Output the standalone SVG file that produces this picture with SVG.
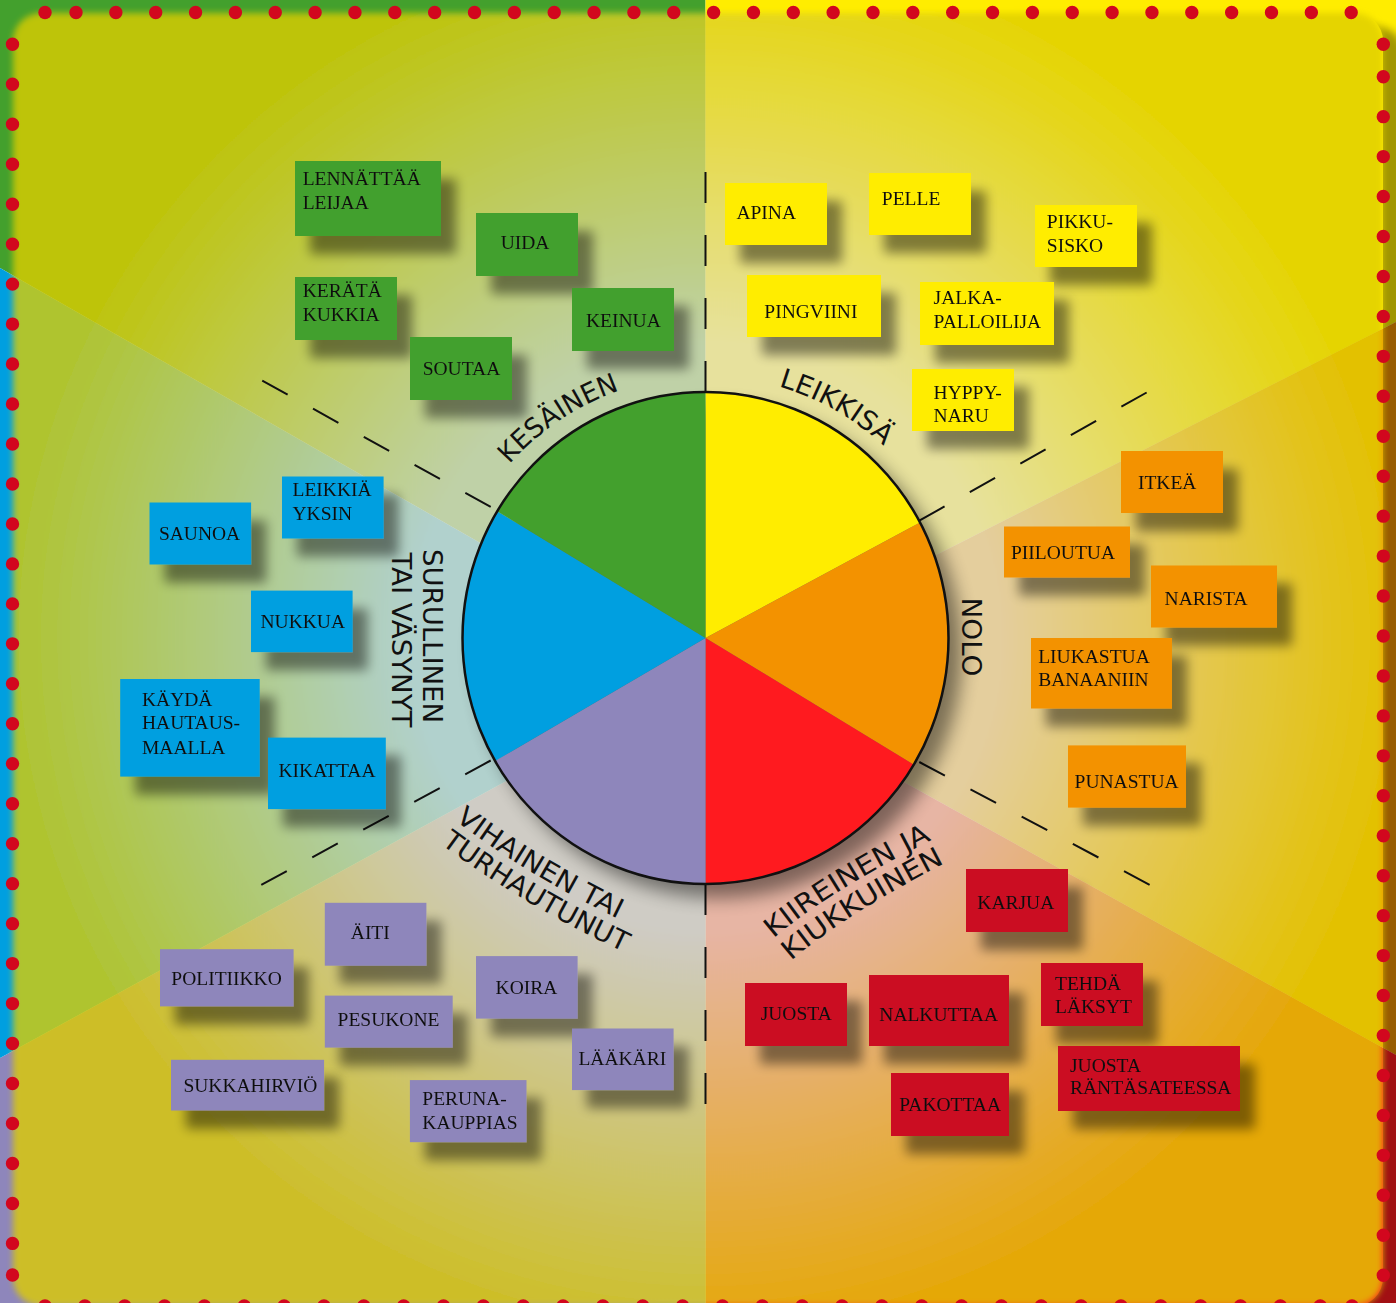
<svg xmlns="http://www.w3.org/2000/svg" width="1396" height="1303" viewBox="0 0 1396 1303">
<defs>
<style>
.bt { font-family: "Liberation Serif", "Times New Roman", serif; font-size: 19.5px; fill: #111; }
.lbl { font-family: "DejaVu Sans Condensed", "DejaVu Sans", sans-serif; font-size: 27px; fill: #111; }
.dash { stroke: #111; stroke-width: 2; fill: none; }
.dd { stroke-dasharray: 29 29; }
.dv { stroke-dasharray: 31 32; }
.dots { stroke: #D2071E; stroke-width: 13.4; stroke-linecap: round; fill: none; }
.dot { fill: #D2071E; }
.g { fill: #43A02D; } .y { fill: #FFED00; } .o { fill: #F39200; } .r { fill: #CB0A20; } .p { fill: #8E86BB; } .b { fill: #009FE0; }
</style>
<filter id="sh" x="-20%" y="-20%" width="160%" height="180%">
<feGaussianBlur in="SourceAlpha" stdDeviation="6"/>
<feOffset dx="15" dy="18"/>
<feComponentTransfer><feFuncA type="linear" slope="0.45"/></feComponentTransfer>
<feMerge><feMergeNode/><feMergeNode in="SourceGraphic"/></feMerge>
</filter>
<filter id="blur9" x="-20%" y="-20%" width="140%" height="140%"><feGaussianBlur stdDeviation="9"/></filter>
<filter id="blur4" x="-5%" y="-5%" width="110%" height="110%"><feGaussianBlur stdDeviation="4"/></filter>
<filter id="blur3" x="-5%" y="-5%" width="110%" height="110%"><feGaussianBlur stdDeviation="3"/></filter>
<radialGradient id="glow" gradientUnits="userSpaceOnUse" cx="705.5" cy="638" r="700">
<stop offset="0" stop-color="#E1DFC8"/>
<stop offset="0.42" stop-color="#E1DFC8"/>
<stop offset="1" stop-color="#DFCE00"/>
</radialGradient>
<clipPath id="strip">
<path clip-rule="evenodd" d="M0 0H1396V1303H0Z M41 13H1355A28 28 0 0 1 1383 41V1278A28 28 0 0 1 1355 1306H41A28 28 0 0 1 13 1278V41A28 28 0 0 1 41 13Z"/>
</clipPath>
<path id="pKes" d="M481.4 502.3A262 262 0 0 1 665.4 379.1"/>
<path id="pLei" d="M726.1 376.8A262 262 0 0 1 918.8 485.9"/>
<path id="pVih" d="M454.8 819.9Q520.6 871.2 618.6 919"/>
<path id="pTur" d="M441 844Q520.3 903.7 625.8 953.1"/>
<path id="pKii" d="M773.6 938.6Q823.9 894.5 931.5 839.9"/>
<path id="pKiu" d="M791 961Q841 917 947 862"/>
</defs>

<g id="background">
<polygon class="g" points="0,0 705.5,0 705.5,672 0,268"/>
<polygon class="y" points="705.5,0 1396,0 1396,322 705.5,672"/>
<polygon fill="#F39200" points="1396,322 1396,1055 705.5,672"/>
<polygon fill="#FF1A1F" points="705.5,672 1396,1055 1396,1303 705.5,1303"/>
<polygon class="p" points="0,1058 705.5,672 705.5,1303 0,1303"/>
<polygon class="b" points="0,268 705.5,672 0,1058"/>
<g clip-path="url(#strip)">
<rect x="35" y="27" width="1370" height="1293" rx="28" fill="#000" opacity="0.37" filter="url(#blur4)"/>
</g>
<rect x="13" y="13" width="1370" height="1293" rx="28" fill="url(#glow)" opacity="0.79" filter="url(#blur3)"/>
</g>

<g id="border-dots">
<circle class="dot" cx="45" cy="12.5" r="6.7"/>
<path class="dots" stroke-dasharray="0 39.85" d="M76 12.5H1351.6"/>
<path class="dots" stroke-dasharray="0 39.97" d="M12.5 44.3V1243.8"/>
<circle class="dot" cx="12.5" cy="1275" r="6.7"/>
<circle class="dot" cx="1383.3" cy="44.3" r="6.7"/>
<path class="dots" stroke-dasharray="0 39.95" d="M1383.3 76.7V1275.6"/>
<path class="dots" stroke-dasharray="0 39.85" d="M45 1306H1320.6"/>
<circle class="dot" cx="1352" cy="1306" r="6.7"/>
</g>

<g id="dividers">
<path class="dash dv" d="M705.5 392V170"/>
<path class="dash dv" d="M705.5 884V1106"/>
<path class="dash dd" d="M490.7 506.9L261 380"/>
<path class="dash dd" d="M919.3 520.7L1149.3 391"/>
<path class="dash dd" d="M919.3 762L1150 885"/>
<path class="dash dd" d="M490.7 760.5L261.2 885"/>
</g>

<g id="wheel">
<ellipse cx="719" cy="652" rx="243" ry="246" fill="#000" opacity="0.45" filter="url(#blur9)"/>
<path class="y" d="M705.5 638L705.5 392A243 246 0 0 1 920 522.5Z"/>
<path class="o" d="M705.5 638L920 522.5A243 246 0 0 1 913.8 764.7Z"/>
<path fill="#FF1A1F" d="M705.5 638L913.8 764.7A243 246 0 0 1 705.5 884Z"/>
<path class="p" d="M705.5 638L705.5 884A243 246 0 0 1 495.1 761Z"/>
<path class="b" d="M705.5 638L495.1 761A243 246 0 0 1 497.2 511.3Z"/>
<path class="g" d="M705.5 638L497.2 511.3A243 246 0 0 1 705.5 392Z"/>
<ellipse cx="705.5" cy="638" rx="243" ry="246" fill="none" stroke="#111" stroke-width="2.5"/>
</g>

<g id="wheel-labels">
<text class="lbl"><textPath href="#pKes" startOffset="50%" text-anchor="middle" textLength="134" lengthAdjust="spacingAndGlyphs">KESÄINEN</textPath></text>
<text class="lbl"><textPath href="#pLei" startOffset="50%" text-anchor="middle" textLength="122" lengthAdjust="spacingAndGlyphs">LEIKKISÄ</textPath></text>
<text class="lbl" transform="translate(962 637) rotate(90)" text-anchor="middle" textLength="79" lengthAdjust="spacingAndGlyphs">NOLO</text>
<text class="lbl" transform="translate(423 636) rotate(90)" text-anchor="middle" textLength="174" lengthAdjust="spacingAndGlyphs">SURULLINEN</text>
<text class="lbl" transform="translate(392 640) rotate(90)" text-anchor="middle" textLength="175" lengthAdjust="spacingAndGlyphs">TAI VÄSYNYT</text>
<text class="lbl"><textPath href="#pVih" textLength="191" lengthAdjust="spacingAndGlyphs">VIHAINEN TAI</textPath></text>
<text class="lbl"><textPath href="#pTur" textLength="213" lengthAdjust="spacingAndGlyphs">TURHAUTUNUT</textPath></text>
<text class="lbl"><textPath href="#pKii" textLength="187" lengthAdjust="spacingAndGlyphs">KIIREINEN JA</textPath></text>
<text class="lbl"><textPath href="#pKiu" textLength="183" lengthAdjust="spacingAndGlyphs">KIUKKUINEN</textPath></text>
</g>

<g id="box-lennattaa-leijaa" filter="url(#sh)"><rect class="g" x="295" y="161" width="146" height="75"/><text class="bt" x="302.7" y="185">LENNÄTTÄÄ</text><text class="bt" x="302.7" y="209">LEIJAA</text></g>
<g id="box-uida" filter="url(#sh)"><rect class="g" x="476" y="213" width="102" height="63"/><text class="bt" x="500.7" y="249">UIDA</text></g>
<g id="box-kerata-kukkia" filter="url(#sh)"><rect class="g" x="295" y="277" width="102" height="63"/><text class="bt" x="302.7" y="296.7">KERÄTÄ</text><text class="bt" x="302.7" y="320.7">KUKKIA</text></g>
<g id="box-keinua" filter="url(#sh)"><rect class="g" x="572" y="288" width="102" height="63"/><text class="bt" x="586" y="327.3">KEINUA</text></g>
<g id="box-soutaa" filter="url(#sh)"><rect class="g" x="410" y="337" width="102" height="63"/><text class="bt" x="422.7" y="375">SOUTAA</text></g>

<g id="box-apina" filter="url(#sh)"><rect class="y" x="725" y="183" width="102" height="62"/><text class="bt" x="736.4" y="218.9">APINA</text></g>
<g id="box-pelle" filter="url(#sh)"><rect class="y" x="869" y="173" width="102" height="62"/><text class="bt" x="881.8" y="205.2">PELLE</text></g>
<g id="box-pikkusisko" filter="url(#sh)"><rect class="y" x="1035" y="205" width="102" height="62"/><text class="bt" x="1046.8" y="228">PIKKU-</text><text class="bt" x="1046.8" y="252">SISKO</text></g>
<g id="box-pingviini" filter="url(#sh)"><rect class="y" x="747" y="275" width="134" height="62"/><text class="bt" x="764.3" y="318.4">PINGVIINI</text></g>
<g id="box-jalkapalloilija" filter="url(#sh)"><rect class="y" x="920" y="282" width="134" height="63"/><text class="bt" x="933.6" y="303.9">JALKA-</text><text class="bt" x="933.6" y="327.9">PALLOILIJA</text></g>
<g id="box-hyppynaru" filter="url(#sh)"><rect class="y" x="912" y="369" width="102" height="62"/><text class="bt" x="933.6" y="399.2">HYPPY-</text><text class="bt" x="933.6" y="422">NARU</text></g>

<g id="box-itkea" filter="url(#sh)"><rect class="o" x="1121" y="451" width="102" height="62"/><text class="bt" x="1137.9" y="489.2">ITKEÄ</text></g>
<g id="box-piiloutua" filter="url(#sh)"><rect class="o" x="1004" y="526.5" width="126" height="51"/><text class="bt" x="1011" y="558.9">PIILOUTUA</text></g>
<g id="box-narista" filter="url(#sh)"><rect class="o" x="1151" y="565.5" width="126" height="62"/><text class="bt" x="1164.6" y="604.5">NARISTA</text></g>
<g id="box-liukastua-banaaniin" filter="url(#sh)"><rect class="o" x="1031" y="638" width="141" height="70.5"/><text class="bt" x="1038.2" y="662.5">LIUKASTUA</text><text class="bt" x="1038.2" y="686.1">BANAANIIN</text></g>
<g id="box-punastua" filter="url(#sh)"><rect class="o" x="1068" y="745.4" width="118" height="62.2"/><text class="bt" x="1074.6" y="787.7">PUNASTUA</text></g>

<g id="box-karjua" filter="url(#sh)"><rect class="r" x="966" y="869" width="102" height="63"/><text class="bt" x="977.3" y="909">KARJUA</text></g>
<g id="box-juosta" filter="url(#sh)"><rect class="r" x="745" y="983" width="102" height="63"/><text class="bt" x="760.7" y="1020">JUOSTA</text></g>
<g id="box-nalkuttaa" filter="url(#sh)"><rect class="r" x="869" y="975" width="140" height="71"/><text class="bt" x="879.3" y="1021">NALKUTTAA</text></g>
<g id="box-tehda-laksyt" filter="url(#sh)"><rect class="r" x="1041" y="963" width="102" height="63"/><text class="bt" x="1055" y="990">TEHDÄ</text><text class="bt" x="1055" y="1013.3">LÄKSYT</text></g>
<g id="box-pakottaa" filter="url(#sh)"><rect class="r" x="891" y="1073" width="118" height="63"/><text class="bt" x="899.3" y="1110.7">PAKOTTAA</text></g>
<g id="box-juosta-rantasateessa" filter="url(#sh)"><rect class="r" x="1058" y="1046" width="182" height="65"/><text class="bt" x="1070" y="1071.7">JUOSTA</text><text class="bt" x="1070" y="1094.3">RÄNTÄSATEESSA</text></g>

<g id="box-leikkia-yksin" filter="url(#sh)"><rect class="b" x="282" y="476.5" width="101.6" height="62"/><text class="bt" x="292.5" y="496">LEIKKIÄ</text><text class="bt" x="292.5" y="519.9">YKSIN</text></g>
<g id="box-saunoa" filter="url(#sh)"><rect class="b" x="149.5" y="502.5" width="101.6" height="62"/><text class="bt" x="158.9" y="540.3">SAUNOA</text></g>
<g id="box-nukkua" filter="url(#sh)"><rect class="b" x="251" y="590.6" width="101.6" height="61.5"/><text class="bt" x="260.5" y="628.3">NUKKUA</text></g>
<g id="box-kayda-hautausmaalla" filter="url(#sh)"><rect class="b" x="120.2" y="679" width="139.5" height="97.6"/><text class="bt" x="142" y="705.5">KÄYDÄ</text><text class="bt" x="142" y="729.3">HAUTAUS-</text><text class="bt" x="142" y="754">MAALLA</text></g>
<g id="box-kikattaa" filter="url(#sh)"><rect class="b" x="268" y="737.6" width="117.8" height="71.5"/><text class="bt" x="278.5" y="777">KIKATTAA</text></g>

<g id="box-aiti" filter="url(#sh)"><rect class="p" x="324.8" y="902.8" width="101.6" height="62.9"/><text class="bt" x="350.8" y="939.2">ÄITI</text></g>
<g id="box-politiikko" filter="url(#sh)"><rect class="p" x="160" y="949.2" width="133.6" height="57.2"/><text class="bt" x="171.3" y="985.2">POLITIIKKO</text></g>
<g id="box-pesukone" filter="url(#sh)"><rect class="p" x="324.8" y="995.6" width="127.9" height="52"/><text class="bt" x="337.6" y="1026.4">PESUKONE</text></g>
<g id="box-koira" filter="url(#sh)"><rect class="p" x="476" y="956.1" width="101.6" height="62.5"/><text class="bt" x="495.6" y="993.8">KOIRA</text></g>
<g id="box-laakari" filter="url(#sh)"><rect class="p" x="572" y="1028.5" width="101.6" height="61.6"/><text class="bt" x="578.4" y="1065">LÄÄKÄRI</text></g>
<g id="box-sukkahirvio" filter="url(#sh)"><rect class="p" x="171" y="1059.8" width="153.1" height="50.7"/><text class="bt" x="183.4" y="1092.3">SUKKAHIRVIÖ</text></g>
<g id="box-peruna-kauppias" filter="url(#sh)"><rect class="p" x="409.9" y="1080.1" width="116.6" height="62.1"/><text class="bt" x="422.3" y="1105.3">PERUNA-</text><text class="bt" x="422.3" y="1129.2">KAUPPIAS</text></g>
</svg>
